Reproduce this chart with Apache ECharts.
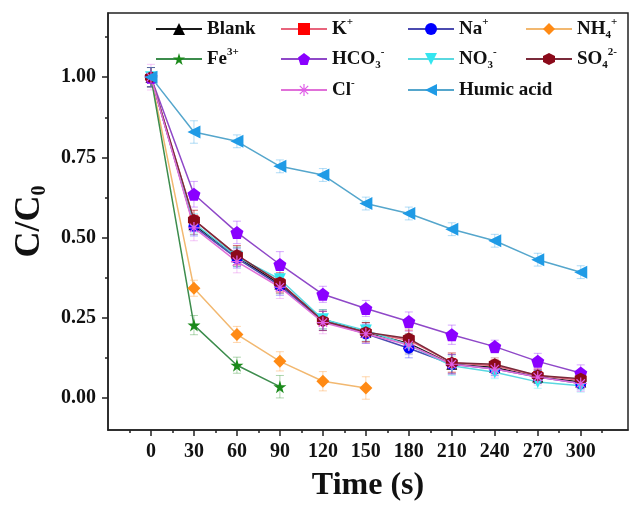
<!DOCTYPE html>
<html>
<head>
    <meta charset="utf-8">
    <title>C/C0 vs Time</title>
    <script src="https://cdn.jsdelivr.net/npm/echarts@6/dist/echarts.min.js"></script>
    <style>
        html, body { margin: 0; padding: 0; background: #fff; }
        #chart { width: 630px; height: 507px; }
    </style>
</head>
<body>
<div id="chart"></div>
<script>
    // time points (s)
    var times = [0, 30, 60, 90, 120, 150, 180, 210, 240, 270, 300];

    // C/C0 values
    var blank  = [1.00, 0.540, 0.440, 0.355, 0.245, 0.205, 0.170, 0.105, 0.095, 0.065, 0.050];
    var kIon   = [1.00, 0.555, 0.445, 0.360, 0.240, 0.205, 0.180, 0.110, 0.100, 0.070, 0.055];
    var naIon  = [1.00, 0.535, 0.435, 0.350, 0.240, 0.200, 0.155, 0.105, 0.090, 0.065, 0.045];
    var nh4    = [1.00, 0.342, 0.198, 0.114, 0.052, 0.031];
    var fe3    = [1.00, 0.227, 0.102, 0.035];
    var hco3   = [1.00, 0.635, 0.516, 0.416, 0.323, 0.279, 0.238, 0.197, 0.160, 0.114, 0.078];
    var no3    = [1.00, 0.545, 0.440, 0.370, 0.245, 0.210, 0.165, 0.100, 0.080, 0.050, 0.038];
    var so4    = [1.00, 0.555, 0.445, 0.360, 0.240, 0.205, 0.185, 0.110, 0.105, 0.070, 0.060];
    var clIon  = [1.00, 0.530, 0.425, 0.345, 0.235, 0.200, 0.165, 0.105, 0.090, 0.065, 0.045];
    var humic  = [1.00, 0.829, 0.800, 0.722, 0.695, 0.606, 0.575, 0.526, 0.490, 0.431, 0.392];

    // error bar half heights
    var blankErr = [0.03, 0.03, 0.03, 0.03, 0.03, 0.03, 0.03, 0.03, 0.02, 0.02, 0.02];
    var kErr     = [0.03, 0.03, 0.03, 0.03, 0.03, 0.03, 0.03, 0.03, 0.02, 0.02, 0.02];
    var naErr    = [0.03, 0.03, 0.03, 0.03, 0.03, 0.03, 0.03, 0.03, 0.02, 0.02, 0.02];
    var nh4Err   = [0.03, 0.025, 0.025, 0.03, 0.03, 0.035];
    var fe3Err   = [0.03, 0.03, 0.025, 0.035];
    var hco3Err  = [0.03, 0.04, 0.035, 0.04, 0.025, 0.025, 0.03, 0.03, 0.02, 0.025, 0.025];
    var no3Err   = [0.03, 0.03, 0.03, 0.03, 0.03, 0.03, 0.03, 0.03, 0.02, 0.02, 0.02];
    var so4Err   = [0.03, 0.03, 0.03, 0.03, 0.03, 0.03, 0.03, 0.03, 0.02, 0.02, 0.02];
    var clErr    = [0.04, 0.04, 0.035, 0.035, 0.035, 0.03, 0.03, 0.03, 0.025, 0.025, 0.025];
    var humicErr = [0.03, 0.035, 0.02, 0.02, 0.02, 0.02, 0.02, 0.02, 0.02, 0.02, 0.02];

    // axis ticks
    var xMajor = [0, 30, 60, 90, 120, 150, 180, 210, 240, 270, 300];
    var xMinor = [-15, 15, 45, 75, 105, 135, 165, 195, 225, 255, 285, 315];
    var yMajor = [0, 0.25, 0.5, 0.75, 1.0];
    var yMinor = [0.125, 0.375, 0.625, 0.875, 1.125];

    var serif = '"Liberation Serif", "Times New Roman", serif';

    var starPath = 'path://M50,0 L61,35 L98,35 L68,57 L79,91 L50,70 L21,91 L32,57 L2,35 L39,35 Z';
    var pentPath = 'path://M50,0 L98,35 L79,91 L21,91 L2,35 Z';
    var hexPath = 'path://M50,0 L93,25 L93,75 L50,100 L7,75 L7,25 Z';
    var astPath = 'path://M45,0 L55,0 L55,100 L45,100 Z M0,45 L100,45 L100,55 L0,55 Z ' +
        'M18.5,11.5 L88.5,81.5 L81.5,88.5 L11.5,18.5 Z M81.5,11.5 L88.5,18.5 L18.5,88.5 L11.5,81.5 Z';

    var defs = [
        { name: 'Blank', label: 'Blank', data: blank, err: blankErr, color: '#000000', line: '#1a1a1a', symbol: 'triangle', size: 11, rotate: 0 },
        { name: 'K+', label: 'K{sup|+}', data: kIon, err: kErr, color: '#ff0000', line: '#e8647c', symbol: 'rect', size: 9, rotate: 0 },
        { name: 'Na+', label: 'Na{sup|+}', data: naIon, err: naErr, color: '#0000ff', line: '#4b4bb0', symbol: 'circle', size: 11, rotate: 0 },
        { name: 'NH4+', label: 'NH{sub|4}{sup|+}', data: nh4, err: nh4Err, color: '#ff8a14', line: '#f2b870', symbol: 'diamond', size: 13, rotate: 0 },
        { name: 'Fe3+', label: 'Fe{sup|3+}', data: fe3, err: fe3Err, color: '#1b8a1b', line: '#3c8c4c', symbol: starPath, size: 13, rotate: 0 },
        { name: 'HCO3-', label: 'HCO{sub|3}{sup|-}', data: hco3, err: hco3Err, color: '#8a00ff', line: '#8f48c8', symbol: pentPath, size: 13, rotate: 0 },
        { name: 'NO3-', label: 'NO{sub|3}{sup|-}', data: no3, err: no3Err, color: '#33e6f0', line: '#5ad8e0', symbol: 'triangle', size: 12, rotate: 180 },
        { name: 'SO42-', label: 'SO{sub|4}{sup|2-}', data: so4, err: so4Err, color: '#8b0a1a', line: '#7a2a3a', symbol: hexPath, size: 12, rotate: 0 },
        { name: 'Cl-', label: 'Cl{sup|-}', data: clIon, err: clErr, color: '#e05ee8', line: '#e070d8', symbol: astPath, size: 12, rotate: 0 },
        { name: 'Humic acid', label: 'Humic acid', data: humic, err: humicErr, color: '#1f9be6', line: '#55a6cc', symbol: 'triangle', size: 13, rotate: 90 }
    ];

    // legend grid: column left x and row top y
    var legendPos = [
        [155, 17], [280, 17], [407, 17], [525, 17],
        [155, 47], [280, 47], [407, 47], [525, 47],
        [280, 78], [407, 78]
    ];

    var labelMap = {};
    defs.forEach(function (d) { labelMap[d.name] = d.label; });

    var rich = {
        sup: { fontSize: 11, fontFamily: serif, fontWeight: 'bold', color: '#111', verticalAlign: 'top', lineHeight: 11 },
        sub: { fontSize: 11, fontFamily: serif, fontWeight: 'bold', color: '#111', verticalAlign: 'bottom', lineHeight: 11 }
    };

    var series = [];
    defs.forEach(function (d) {
        var pts = d.data.map(function (v, i) { return [times[i], v]; });
        var bars = d.data.map(function (v, i) { return [times[i], v - d.err[i], v + d.err[i]]; });
        series.push({
            name: d.name + ' err',
            type: 'custom',
            data: bars,
            z: 1,
            silent: true,
            encode: { x: 0, y: [1, 2] },
            renderItem: function (params, api) {
                var top = api.coord([api.value(0), api.value(2)]);
                var bot = api.coord([api.value(0), api.value(1)]);
                var st = { stroke: d.color, lineWidth: 1, opacity: 0.35 };
                return {
                    type: 'group',
                    children: [
                        { type: 'line', shape: { x1: top[0], y1: top[1], x2: bot[0], y2: bot[1] }, style: st },
                        { type: 'line', shape: { x1: top[0] - 4, y1: top[1], x2: top[0] + 4, y2: top[1] }, style: st },
                        { type: 'line', shape: { x1: bot[0] - 4, y1: bot[1], x2: bot[0] + 4, y2: bot[1] }, style: st }
                    ]
                };
            }
        });
        series.push({
            name: d.name,
            type: 'line',
            data: pts,
            z: 3,
            symbol: d.symbol,
            symbolSize: d.size,
            symbolRotate: d.rotate,
            showAllSymbol: true,
            itemStyle: { color: d.color },
            lineStyle: { color: d.line, width: 1.5 },
            emphasis: { disabled: true }
        });
    });

    var legends = defs.map(function (d, i) {
        return {
            data: [d.name],
            left: legendPos[i][0],
            top: legendPos[i][1],
            padding: 0,
            itemWidth: 46,
            itemHeight: 15,
            selectedMode: false,
            formatter: function (n) { return labelMap[n]; },
            textStyle: {
                fontFamily: serif, fontWeight: 'bold', fontSize: 19, color: '#111',
                lineHeight: 24, rich: rich
            }
        };
    });

    var axisLabelStyle = { fontFamily: serif, fontWeight: 'bold', fontSize: 20, color: '#111' };

    var chart = echarts.init(document.getElementById('chart'));
    chart.setOption({
        animation: false,
        backgroundColor: '#fff',
        legend: legends,
        grid: {
            left: 108, right: 2, top: 13, bottom: 71,
            show: true, borderColor: '#222', borderWidth: 1.5
        },
        xAxis: [{
            type: 'value', min: -30, max: 333,
            axisLine: { show: true, onZero: false, lineStyle: { color: '#222', width: 1.5 } },
            axisTick: { show: true, customValues: xMajor, length: 6, lineStyle: { color: '#222', width: 1.5 } },
            axisLabel: Object.assign({ customValues: xMajor, margin: 12 }, axisLabelStyle),
            splitLine: { show: false },
            name: 'Time (s)', nameLocation: 'middle', nameGap: 40,
            nameTextStyle: { fontFamily: serif, fontWeight: 'bold', fontSize: 32, color: '#111' }
        }, {
            type: 'value', min: -30, max: 333, position: 'bottom',
            axisLine: { show: false, onZero: false },
            axisTick: { show: true, customValues: xMinor, length: 3, lineStyle: { color: '#222', width: 1.5 } },
            axisLabel: { show: false },
            splitLine: { show: false }
        }],
        yAxis: [{
            type: 'value', min: -0.1, max: 1.2,
            axisLine: { show: true, onZero: false, lineStyle: { color: '#222', width: 1.5 } },
            axisTick: { show: true, customValues: yMajor, length: 6, lineStyle: { color: '#222', width: 1.5 } },
            axisLabel: Object.assign({
                customValues: yMajor, margin: 12,
                formatter: function (v) { return v.toFixed(2); }
            }, axisLabelStyle),
            splitLine: { show: false },
            name: 'C/C{sub|0}', nameLocation: 'middle', nameGap: 58, nameRotate: 90,
            nameTextStyle: {
                fontFamily: serif, fontWeight: 'bold', fontSize: 36, color: '#111', lineHeight: 40,
                rich: {
                    sub: { fontFamily: serif, fontWeight: 'bold', fontSize: 20, color: '#111', verticalAlign: 'bottom', lineHeight: 20 }
                }
            }
        }, {
            type: 'value', min: -0.1, max: 1.2, position: 'left',
            axisLine: { show: false, onZero: false },
            axisTick: { show: true, customValues: yMinor, length: 3, lineStyle: { color: '#222', width: 1.5 } },
            axisLabel: { show: false },
            splitLine: { show: false }
        }],
        series: series
    });
</script>
</body>
</html>
